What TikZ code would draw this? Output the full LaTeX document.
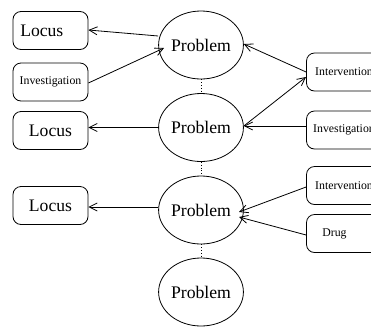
\documentclass[tikz,border=0pt]{standalone}
\usepackage{fontspec}
\setmainfont{Liberation Serif}
\usetikzlibrary{arrows.meta,shapes.geometric}
\begin{document}
\begin{tikzpicture}[x=1pt,y=-1pt,
  box/.style={draw,rounded corners=8pt,minimum width=75pt,minimum height=38pt,inner sep=0pt,line width=0.8pt},
  bigtxt/.style={font=\fontsize{17.6}{18}\selectfont},
  smalltxt/.style={font=\fontsize{11.8}{12}\selectfont},
  prob/.style={draw,ellipse,minimum width=76pt,minimum height=68pt,inner sep=0pt,line width=0.8pt,font=\fontsize{17.7}{18}\selectfont},
  arr/.style={line width=0.8pt,-{Straight Barb[length=8pt,width=8pt]}},
  dots/.style={dotted,line width=0.8pt}]
\useasboundingbox (0,0) rectangle (371,327);
\clip (0,0) rectangle (371,327);
% problems
\node[prob] (p1) at (201,45) {Problem};
\node[prob] (p2) at (201,127.5) {Problem};
\node[prob] (p3) at (201,210) {Problem};
\node[prob] (p4) at (201,292) {Problem};
% left boxes
\node[box] (l1) at (50.5,30.5) {};
\node[bigtxt,anchor=west,inner sep=0pt] (l1txt) at ([xshift=7.5pt]l1.west) {Locus};
\node[box,smalltxt] (i1) at (50.5,82) {Investigation};
\node[box,bigtxt] (l2) at (50.5,130.5) {Locus};
\node[box,bigtxt] (l3) at (50.5,205.5) {Locus};
% right boxes
\node[box,smalltxt] (r1) at (344,72) {Intervention};
\node[box,smalltxt] (r2) at (344,130) {Investigation};
\node[box,smalltxt] (r3) at (344,185.5) {Intervention};
\node[box] (r4) at (344,233.5) {};
\node[smalltxt,anchor=west,inner sep=0pt] (drugtxt) at ([xshift=16pt]r4.west) {Drug};
% dotted links
\draw[dots] (p1.south) -- (p2.north);
\draw[dots] (p2.south) -- (p3.north);
\draw[dots] (p3.south) -- (p4.north);
% arrows
\draw[arr] (p1.west |- 0,36) -- (l1.east |- 0,30);
\draw[arr] (i1.east) ++(0,1) coordinate (i1s) -- (164,48);
\draw[arr] (r1.west) -- (p1.east |- 0,44);
\draw[arr] (p2.east |- 0,126) -- (306,77);
\draw[arr] (r2.west |- 0,126) -- (p2.east |- 0,126);
\draw[arr] (p2.west) -- (l2.east |- p2.west);
\draw[arr] (p3.west |- 0,207) -- (l3.east |- 0,207);
\draw[arr] (r3.west |- 0,187) -- (239,212);
\draw[arr] (r4.west |- 0,235) -- (239,217);
\end{tikzpicture}
\end{document}
